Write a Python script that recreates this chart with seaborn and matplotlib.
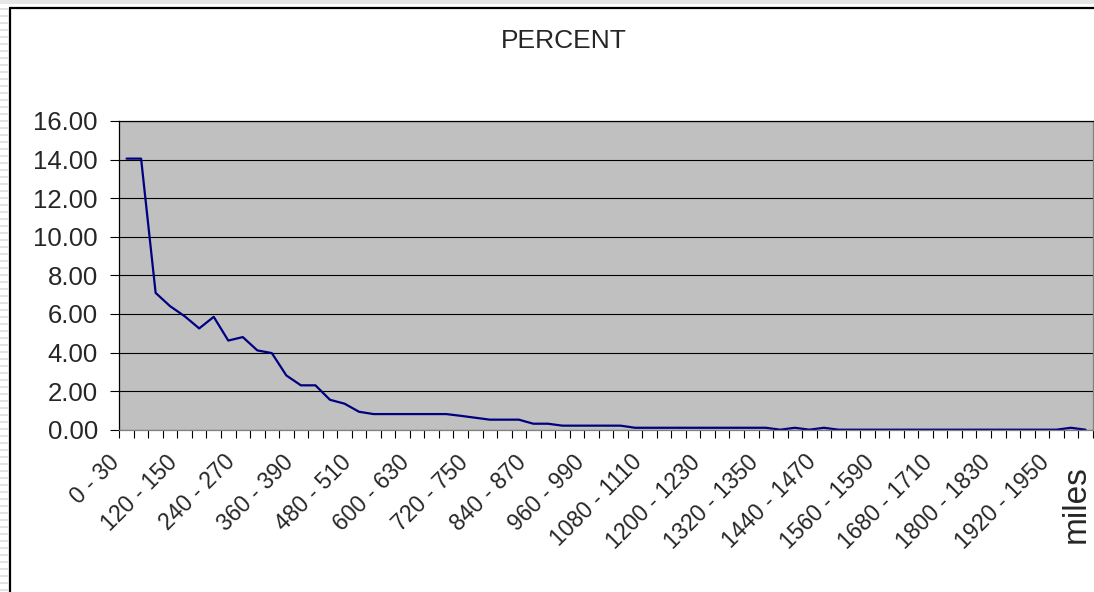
"""Distance distribution line chart (Excel-style)."""

import matplotlib
matplotlib.use("Agg")
import matplotlib.pyplot as plt
import matplotlib.transforms as mtransforms
from matplotlib.lines import Line2D
from matplotlib.patches import Rectangle
import pandas as pd
import seaborn as sns

# 30-mile distance bins
bin_starts = list(range(0, 1981, 30))
categories = [f"{s} - {s + 30}" for s in bin_starts]

percent = [
    14.05, 14.05, 7.09, 6.40, 5.88, 5.25, 5.85, 4.62, 4.80, 4.11,
    3.97, 2.81, 2.30, 2.30, 1.55, 1.35, 0.93, 0.81, 0.81, 0.81,
    0.81, 0.81, 0.81, 0.72, 0.62, 0.52, 0.52, 0.52, 0.31, 0.31,
    0.21, 0.21, 0.21, 0.21, 0.21, 0.10, 0.10, 0.10, 0.10, 0.10,
    0.10, 0.10, 0.10, 0.10, 0.10, 0.00, 0.10, 0.00, 0.10, 0.00,
    0.00, 0.00, 0.00, 0.00, 0.00, 0.00, 0.00, 0.00, 0.00, 0.00,
    0.00, 0.00, 0.00, 0.00, 0.00, 0.10, 0.00,
]

y_ticks = [0, 2, 4, 6, 8, 10, 12, 14, 16]
label_every = 4

df = pd.DataFrame({"bin": categories, "pct": percent})
df["pos"] = range(len(df))

sns.set_theme(style="white")
plt.rcParams["font.family"] = ["Liberation Sans", "DejaVu Sans"]

fig = plt.figure(figsize=(10.94, 5.92), dpi=100)
W, H = 1094, 592
ax = fig.add_axes([119.3 / W, 1 - 429.7 / H, (1092.7 - 119.3) / W, (429.7 - 121) / H])
ax.set_facecolor("#C0C0C0")

sns.lineplot(data=df, x="pos", y="pct", color="#000080", linewidth=1.6, ax=ax)

n = len(categories)
ax.set_xlim(-0.5, n - 0.5)
ax.set_ylim(0, 16)
ax.set_xlabel("")
ax.set_ylabel("")

# gridlines
for v in y_ticks:
    ax.axhline(v, color="black", linewidth=0.8, zorder=1)

ax.set_yticks(y_ticks)
ax.set_yticklabels([f"{v:.2f}" for v in y_ticks], fontsize=18.5)
ax.tick_params(axis="y", direction="out", length=6.5, width=0.8, color="black",
               pad=9, left=True)

# category boundaries get tick marks, every 4th center gets a label
ax.set_xticks([i - 0.5 for i in range(n + 1)], minor=True)
centers = list(range(0, n, label_every))
ax.set_xticks(centers)
ax.set_xticklabels([categories[i] for i in centers], fontsize=16.5, rotation=45,
                   ha="right", va="center", rotation_mode="anchor")
ax.tick_params(axis="x", which="major", length=0, pad=0)
ax.tick_params(axis="x", which="minor", direction="out", length=5.5, width=0.8,
               color="black", bottom=True)
offset = mtransforms.ScaledTranslation(-11 / 100, -29 / 100, fig.dpi_scale_trans)
for lab in ax.get_xticklabels():
    lab.set_transform(lab.get_transform() + offset)

for sp in ax.spines.values():
    sp.set_visible(True)
    sp.set_color("black")
    sp.set_linewidth(0.9)
ax.spines["right"].set_color("#808080")
ax.spines["bottom"].set_color("#808080")

fig.text(564 / W, 1 - 41 / H, "PERCENT", fontsize=19, ha="center", va="center")
fig.text(1076 / W, 1 - 504 / H, "miles", fontsize=24, rotation=90,
         ha="center", va="center")

# window frame: grey strips and the black chart-area border
fig.patches.append(Rectangle((0, 1 - 4 / H), 1, 4 / H, transform=fig.transFigure,
                             facecolor="#E6E6E6", edgecolor="none"))
for yy in range(8, 592, 7):
    fig.patches.append(Rectangle((0, 1 - (yy + 2) / H), 8 / W, 2 / H,
                                 transform=fig.transFigure,
                                 facecolor="#E3E3E3", edgecolor="none"))
fig.lines.append(Line2D([9.5 / W, 9.5 / W], [0, 1 - 7.5 / H],
                        transform=fig.transFigure, color="black", linewidth=1.6))
fig.lines.append(Line2D([9.5 / W, 1], [1 - 7.5 / H, 1 - 7.5 / H],
                        transform=fig.transFigure, color="black", linewidth=1.6))

fig.savefig("out.png", dpi=100)
plt.close(fig)
